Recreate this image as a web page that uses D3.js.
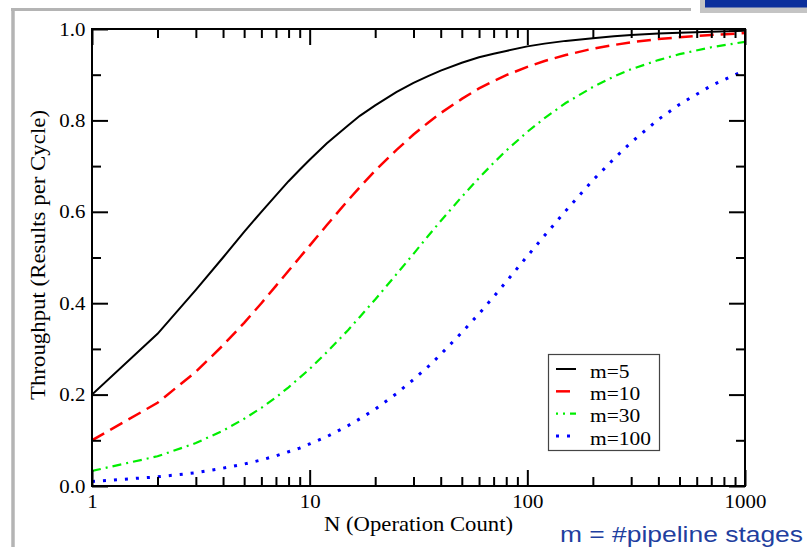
<!DOCTYPE html>
<html><head><meta charset="utf-8">
<script src="https://cdn.jsdelivr.net/npm/d3@7"></script>
<style>html,body{margin:0;padding:0;background:#fff;overflow:hidden;} svg{display:block;}</style>
</head><body>
<svg id="chart" width="807" height="547"></svg>
<script>
// ---- data ----
const nValues = [1,2,3,4,5,6,7,8,9,10,12,15,17,20,25,30,35,40,50,60,70,80,100,120,150,200,250,300,400,500,700,1000];
const seriesNames = ["m=5","m=10","m=30","m=100"];
const seriesColors = ["#000000","#ff0000","#00ee00","#0000ff"];
const m5   = [0.200,0.333,0.429,0.500,0.556,0.600,0.636,0.667,0.692,0.714,0.750,0.789,0.810,0.833,0.862,0.882,0.897,0.909,0.926,0.938,0.946,0.952,0.962,0.968,0.974,0.980,0.984,0.987,0.990,0.992,0.994,0.996];
const m10  = [0.100,0.182,0.250,0.308,0.357,0.400,0.438,0.471,0.500,0.526,0.571,0.625,0.654,0.690,0.735,0.769,0.795,0.816,0.847,0.870,0.886,0.899,0.917,0.930,0.943,0.957,0.965,0.971,0.978,0.982,0.987,0.991];
const m30  = [0.033,0.065,0.094,0.121,0.147,0.171,0.194,0.216,0.237,0.256,0.293,0.341,0.370,0.408,0.463,0.508,0.547,0.580,0.633,0.674,0.707,0.734,0.775,0.805,0.838,0.873,0.896,0.912,0.932,0.945,0.960,0.972];
const m100 = [0.010,0.020,0.029,0.039,0.048,0.057,0.066,0.075,0.083,0.092,0.108,0.132,0.147,0.168,0.202,0.233,0.261,0.288,0.336,0.377,0.414,0.447,0.503,0.548,0.602,0.669,0.716,0.752,0.802,0.835,0.876,0.910];
const xMajorTicks = [1,10,100,1000];
const xMinorTicks = [2,3,4,5,6,7,8,9,20,30,40,50,60,70,80,90,200,300,400,500,600,700,800,900];
const yMajorTicks = [0,0.2,0.4,0.6,0.8,1.0];
const yMinorTicks = [0.1,0.3,0.5,0.7,0.9];
const xTickLabels = ["1","10","100","1000"];
const yTickLabels = ["0.0","0.2","0.4","0.6","0.8","1.0"];
const xTitle = "N (Operation Count)";
const yTitle = "Throughput (Results per Cycle)";
const noteText = "m = #pipeline stages";

// ---- drawing ----
const svg = d3.select("#chart");
const L = 92, R = 745, T = 29, B = 486;
const x = d3.scaleLog().domain([1,1000]).range([L,R]);
const y = d3.scaleLinear().domain([0,1]).range([B,T]);
const serif = "'Liberation Serif','Times New Roman',serif";

svg.append("rect").attr("width",807).attr("height",547).attr("fill","#fff");

// slide decorations
svg.append("line").attr("x1",13).attr("x2",13).attr("y1",8).attr("y2",547)
  .attr("stroke","#b4b4b4").attr("stroke-width",3.5);
svg.append("line").attr("x1",11).attr("x2",691).attr("y1",9.5).attr("y2",9.5)
  .attr("stroke","#b4b4b4").attr("stroke-width",3);
svg.append("rect").attr("x",700).attr("y",0).attr("width",107).attr("height",13).attr("fill","#c4c4c4");
svg.append("rect").attr("x",705).attr("y",0).attr("width",102).attr("height",7.5).attr("fill","#0c2f9c");

const series = [m5,m10,m30,m100];
const dash = [null,"14,7","9,5,2,5","3,8"];
const widths = [2,2.5,2.2,3];

svg.append("clipPath").attr("id","clip").append("rect")
  .attr("x",L).attr("y",T-3).attr("width",R-L+2).attr("height",B-T+3);

const line = d3.line().x(d=>x(d[0])).y(d=>y(d[1]));
const gLines = svg.append("g").attr("clip-path","url(#clip)");
series.forEach((vals,i)=>{
  gLines.append("path")
    .datum(nValues.map((n,k)=>[n,vals[k]]))
    .attr("d",line).attr("fill","none")
    .attr("stroke",seriesColors[i]).attr("stroke-width",widths[i])
    .attr("stroke-dasharray",dash[i]);
});

// axes (ticks inward on all four sides)
function styleAxis(g){
  g.select(".domain").remove();
  g.selectAll(".tick line").attr("stroke","#000").attr("stroke-width",2);
}
const fmtX = d => xTickLabels[xMajorTicks.indexOf(d)];
const fmtY = d => yTickLabels[yMajorTicks.findIndex(v=>Math.abs(v-d)<1e-9)];

const gxb = svg.append("g").attr("transform",`translate(0,${B})`)
  .call(d3.axisBottom(x).tickValues(xMajorTicks).tickSize(-16).tickSizeOuter(0).tickPadding(9).tickFormat(fmtX));
styleAxis(gxb);
gxb.selectAll("text").attr("font-family",serif).attr("font-size",19).attr("fill","#000")
  .attr("transform","scale(1.1,1)");
const gxbm = svg.append("g").attr("transform",`translate(0,${B})`)
  .call(d3.axisBottom(x).tickValues(xMinorTicks).tickSize(-9).tickSizeOuter(0).tickFormat(""));
styleAxis(gxbm);

const gxt = svg.append("g").attr("transform",`translate(0,${T})`)
  .call(d3.axisTop(x).tickValues(xMajorTicks).tickSize(-16).tickSizeOuter(0).tickFormat(""));
styleAxis(gxt);
const gxtm = svg.append("g").attr("transform",`translate(0,${T})`)
  .call(d3.axisTop(x).tickValues(xMinorTicks).tickSize(-9).tickSizeOuter(0).tickFormat(""));
styleAxis(gxtm);

const gyl = svg.append("g").attr("transform",`translate(${L},0)`)
  .call(d3.axisLeft(y).tickValues(yMajorTicks).tickSize(-16).tickSizeOuter(0).tickPadding(6).tickFormat(fmtY));
styleAxis(gyl);
gyl.selectAll("text").attr("font-family",serif).attr("font-size",19).attr("fill","#000")
  .attr("transform","scale(1.1,1)");
const gylm = svg.append("g").attr("transform",`translate(${L},0)`)
  .call(d3.axisLeft(y).tickValues(yMinorTicks).tickSize(-9).tickSizeOuter(0).tickFormat(""));
styleAxis(gylm);

const gyr = svg.append("g").attr("transform",`translate(${R},0)`)
  .call(d3.axisRight(y).tickValues(yMajorTicks).tickSize(-16).tickSizeOuter(0).tickFormat(""));
styleAxis(gyr);
const gyrm = svg.append("g").attr("transform",`translate(${R},0)`)
  .call(d3.axisRight(y).tickValues(yMinorTicks).tickSize(-9).tickSizeOuter(0).tickFormat(""));
styleAxis(gyrm);

svg.append("rect").attr("x",L).attr("y",T).attr("width",R-L).attr("height",B-T)
  .attr("fill","none").attr("stroke","#000").attr("stroke-width",2);

// axis titles
svg.append("text").attr("x",(L+R)/2).attr("y",531).attr("text-anchor","middle")
  .attr("font-family",serif).attr("font-size",21).attr("fill","#000")
  .attr("textLength",189).attr("lengthAdjust","spacingAndGlyphs").text(xTitle);
svg.append("text").attr("transform",`translate(45,255) rotate(-90)`).attr("text-anchor","middle")
  .attr("font-family",serif).attr("font-size",21).attr("fill","#000")
  .attr("textLength",290).attr("lengthAdjust","spacingAndGlyphs").text(yTitle);

// legend
const lg = svg.append("g");
lg.append("rect").attr("x",548.5).attr("y",354.5).attr("width",111).attr("height",96)
  .attr("fill","#fff").attr("stroke","#444").attr("stroke-width",1.2);
const legY = d3.scalePoint().domain(seriesNames).range([369,436]);
const legOffsets = [0,0,7,0];
seriesNames.forEach((name,i)=>{
  lg.append("line").attr("x1",556).attr("x2",576).attr("y1",legY(name)).attr("y2",legY(name))
    .attr("stroke",seriesColors[i]).attr("stroke-width",widths[i])
    .attr("stroke-dasharray",dash[i]).attr("stroke-dashoffset",legOffsets[i]);
  lg.append("text").attr("transform",`translate(590,${legY(name)+8.5}) scale(1.1,1)`)
    .attr("font-family",serif).attr("font-size",19.5).attr("fill","#000").text(name);
});

// slide note
svg.append("text").attr("x",560).attr("y",541.5)
  .attr("font-family","'Liberation Sans',Arial,sans-serif").attr("font-size",22)
  .attr("fill","#1f3f9f").attr("textLength",243).attr("lengthAdjust","spacingAndGlyphs").text(noteText);
</script>
</body></html>
